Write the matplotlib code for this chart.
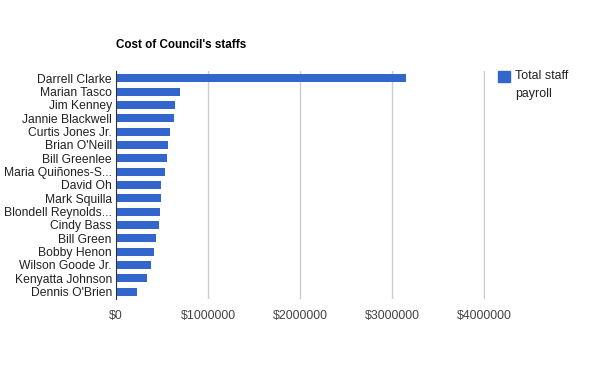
import matplotlib.pyplot as plt
from matplotlib.patches import Rectangle

plt.rcParams['font.family'] = ['Liberation Sans', 'DejaVu Sans']

names = ["Darrell Clarke", "Marian Tasco", "Jim Kenney", "Jannie Blackwell",
         "Curtis Jones Jr.", "Brian O'Neill", "Bill Greenlee", "Maria Quiñones-S...",
         "David Oh", "Mark Squilla", "Blondell Reynolds...", "Cindy Bass",
         "Bill Green", "Bobby Henon", "Wilson Goode Jr.", "Kenyatta Johnson",
         "Dennis O'Brien"]
payroll = [3150000, 700000, 640000, 630000, 585000, 563000, 550000, 530000,
           490000, 490000, 477000, 466000, 433000, 410000, 380000, 336000, 230000]
xticks = [0, 1000000, 2000000, 3000000, 4000000]
xtick_labels = ["$0", "$1000000", "$2000000", "$3000000", "$4000000"]

blue = '#3366cc'

fig = plt.figure(figsize=(6, 3.71), dpi=100)
ax = fig.add_axes([116/600, 1-299/371, (485-116)/600, (299-71)/371])

y = list(range(len(names)))
ax.barh(y, payroll, height=0.58, color=blue, zorder=3)
ax.set_ylim(len(names) - 0.45, -0.55)
ax.set_xlim(0, 4008000)

ax.set_yticks(y)
ax.set_yticklabels(names, fontsize=8.7, color='#222222')
ax.set_xticks(xticks)
ax.set_xticklabels(xtick_labels, fontsize=8.9, color='#444444')
ax.tick_params(length=0, pad=3)
ax.tick_params(axis='x', pad=8)

ax.grid(axis='x', color='#cccccc', linewidth=1, zorder=0)
for s in ['top', 'right', 'bottom']:
    ax.spines[s].set_visible(False)
ax.spines['left'].set_color('#333333')
ax.spines['left'].set_zorder(4)

fig.text(116/600, 1-45/371, "Cost of Council's staffs", fontsize=8.4,
         fontweight='bold', va='center', ha='left')

# legend
fig.patches.append(Rectangle((498/600, 1-82/371), 12/600, 11/371,
                             transform=fig.transFigure, color=blue))
fig.text(515/600, 1-70/371, "Total staff\npayroll", fontsize=8.9,
         color='#222222', va='top', ha='left', linespacing=1.7)

fig.savefig('out.png', dpi=100)
